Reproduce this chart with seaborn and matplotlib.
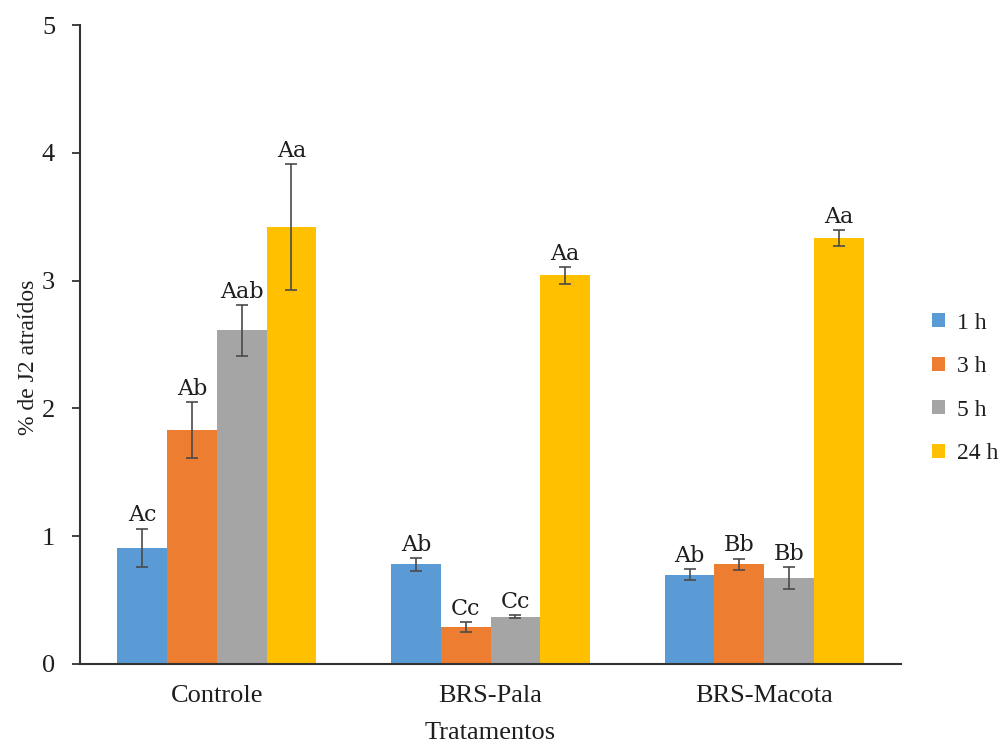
import matplotlib
matplotlib.use("Agg")
import matplotlib.pyplot as plt
import seaborn as sns
import pandas as pd

# Attraction of J2 juveniles per treatment and exposure time
treatments = ["Controle", "BRS-Pala", "BRS-Macota"]
times = ["1 h", "3 h", "5 h", "24 h"]

values_1h = [0.91, 0.78, 0.70]
values_3h = [1.83, 0.29, 0.78]
values_5h = [2.61, 0.37, 0.67]
values_24h = [3.42, 3.04, 3.33]

errors_1h = [0.15, 0.05, 0.04]
errors_3h = [0.22, 0.04, 0.045]
errors_5h = [0.20, 0.01, 0.087]
errors_24h = [0.49, 0.065, 0.063]

letters_1h = ["Ac", "Ab", "Ab"]
letters_3h = ["Ab", "Cc", "Bb"]
letters_5h = ["Aab", "Cc", "Bb"]
letters_24h = ["Aa", "Aa", "Aa"]

colors = ["#5B9BD5", "#ED7D31", "#A5A5A5", "#FFC000"]

values = [values_1h, values_3h, values_5h, values_24h]
errors = [errors_1h, errors_3h, errors_5h, errors_24h]
letters = [letters_1h, letters_3h, letters_5h, letters_24h]

rows = []
for t, vals, errs, lets in zip(times, values, errors, letters):
    for tr, v, e, l in zip(treatments, vals, errs, lets):
        rows.append({"Tratamento": tr, "Tempo": t, "valor": v, "erro": e, "letra": l})
df = pd.DataFrame(rows)

sns.set_style("white")
plt.rcParams["font.family"] = ["Liberation Serif", "DejaVu Serif"]

fig = plt.figure(figsize=(10.05, 7.44), dpi=100)
ax = fig.add_axes([80 / 1005, 80 / 744, 821 / 1005, 639 / 744])

sns.barplot(data=df, x="Tratamento", y="valor", hue="Tempo",
            order=treatments, hue_order=times, palette=colors,
            errorbar=None, width=0.727, saturation=1, linewidth=0,
            ax=ax, legend=True)

text_color = "#1e1e1e"

# Error bars and significance letters on each bar
for container, t in zip(ax.containers, times):
    sub = df[df["Tempo"] == t].set_index("Tratamento").loc[treatments]
    for bar, (_, r) in zip(container, sub.iterrows()):
        xc = bar.get_x() + bar.get_width() / 2
        ax.errorbar(xc, r["valor"], yerr=r["erro"], color="#4a4a4a",
                    lw=1.2, capsize=4.5, capthick=1.2, zorder=3)
        ax.annotate(r["letra"], (xc, r["valor"] + r["erro"]),
                    xytext=(0, 1.5), textcoords="offset points",
                    ha="center", va="bottom", fontsize=16,
                    family="DejaVu Serif", color=text_color)

ax.set_ylim(0, 5)
ax.set_xlim(-0.5, 2.5)
ax.set_yticks([0, 1, 2, 3, 4, 5])

for side in ["top", "right"]:
    ax.spines[side].set_visible(False)
for side in ["left", "bottom"]:
    ax.spines[side].set_color("#333333")
    ax.spines[side].set_linewidth(1.5)

ax.tick_params(axis="y", direction="out", length=6, width=1.3,
               color="#333333", pad=12, labelsize=19, labelcolor=text_color, left=True)
ax.tick_params(axis="x", length=0, pad=15, labelsize=19, labelcolor=text_color)

ax.set_xlabel("Tratamentos", fontsize=19, color=text_color, labelpad=11)
ax.set_ylabel("% de J2 atraídos", fontsize=17, color=text_color)
ax.yaxis.set_label_coords(-0.05, 0.48)

handles, labels = ax.get_legend_handles_labels()
ax.get_legend().remove()
fig.legend(handles, labels, loc="center left", bbox_to_anchor=(0.906, 0.478),
           frameon=False, fontsize=17, handlelength=0.55, handleheight=0.55,
           handletextpad=0.5, labelspacing=0.95, labelcolor=text_color)

fig.savefig("out.png", dpi=100, facecolor="white")
